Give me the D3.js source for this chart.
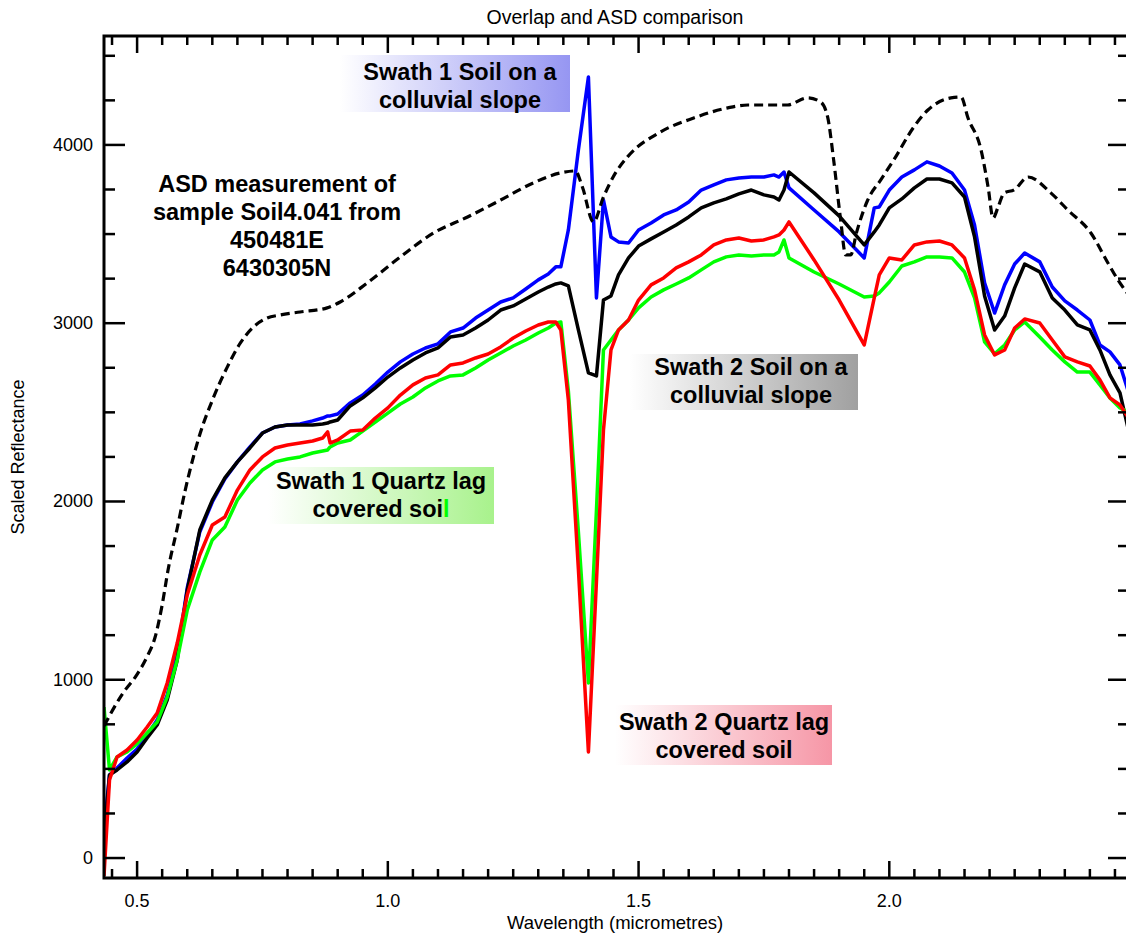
<!DOCTYPE html>
<html><head><meta charset="utf-8">
<script src="https://cdn.jsdelivr.net/npm/d3@7/dist/d3.min.js"></script>
<style>body{margin:0;background:#fff}svg{display:block}text{font-family:"Liberation Sans",Arial,sans-serif}</style>
</head><body>
<script>
// ---- data ----
const wavelengths = [0.434,0.445,0.46,0.48,0.50,0.52,0.54,0.56,0.58,0.60,0.625,0.65,0.675,0.70,0.725,0.75,0.775,0.80,0.825,0.85,0.87,0.88,0.885,0.90,0.925,0.95,0.975,1.00,1.025,1.05,1.075,1.10,1.125,1.15,1.175,1.20,1.225,1.25,1.275,1.30,1.32,1.335,1.345,1.36,1.38,1.40,1.416,1.43,1.445,1.46,1.48,1.50,1.525,1.55,1.575,1.60,1.625,1.65,1.675,1.70,1.725,1.75,1.77,1.78,1.79,1.80,1.85,1.90,1.95,1.97,1.98,2.00,2.025,2.05,2.075,2.10,2.125,2.15,2.17,2.19,2.21,2.23,2.25,2.27,2.30,2.325,2.35,2.375,2.40,2.42,2.44,2.46,2.48];
const swath1Soil = [157,466,505,561,612,690,774,914,1139,1515,1829,1997,2126,2222,2306,2384,2418,2429,2435,2452,2468,2480,2480,2491,2553,2597,2659,2726,2783,2827,2861,2884,2951,2973,3029,3074,3119,3142,3192,3243,3276,3316,3316,3523,3972,4381,3142,3691,3484,3456,3450,3523,3562,3607,3635,3680,3747,3776,3804,3815,3820,3820,3832,3820,3848,3759,3635,3512,3366,3647,3652,3747,3820,3860,3905,3882,3843,3747,3551,3226,3057,3215,3332,3394,3344,3203,3125,3074,3018,2878,2839,2766,2586];
const swath2Soil = [101,466,494,539,595,673,746,886,1111,1503,1840,2008,2132,2222,2300,2384,2418,2429,2429,2429,2435,2440,2446,2457,2536,2581,2637,2698,2749,2794,2833,2861,2923,2934,2973,3018,3074,3097,3136,3175,3203,3220,3226,3209,2962,2721,2704,3130,3153,3271,3366,3433,3473,3512,3551,3596,3647,3675,3697,3725,3747,3720,3708,3691,3747,3848,3731,3602,3439,3512,3551,3647,3697,3759,3809,3809,3787,3708,3484,3153,2962,3040,3198,3332,3288,3142,3074,2990,2962,2850,2710,2609,2362];
const swath1Quartz = [847,494,567,595,640,701,763,903,1111,1391,1604,1784,1857,2008,2104,2177,2222,2238,2250,2272,2283,2289,2306,2328,2345,2395,2446,2496,2547,2586,2637,2676,2704,2710,2749,2794,2833,2872,2906,2945,2973,3001,3007,2620,1830,982,1950,2850,2906,2962,3018,3086,3147,3187,3220,3254,3299,3344,3372,3383,3377,3383,3383,3400,3467,3366,3287,3220,3147,3153,3170,3231,3321,3344,3372,3372,3366,3287,3142,2895,2828,2878,2962,3007,2923,2850,2783,2726,2726,2654,2581,2525,2496];
const swath2Quartz = [-100,438,567,606,662,735,813,982,1206,1475,1700,1868,1913,2064,2177,2250,2300,2317,2328,2339,2356,2390,2328,2345,2395,2401,2468,2525,2597,2654,2693,2710,2766,2777,2805,2827,2867,2917,2956,2990,3007,3007,2962,2569,1620,595,1550,2400,2850,2962,3018,3130,3215,3254,3310,3344,3383,3439,3467,3478,3461,3467,3484,3495,3523,3568,3355,3130,2878,3142,3271,3366,3355,3439,3456,3461,3439,3366,3187,2934,2822,2850,2973,3024,3001,2906,2811,2783,2760,2682,2581,2541,2457];
const asdWavelengths = [0.434,0.472,0.50,0.52,0.536,0.55,0.562,0.58,0.596,0.626,0.652,0.680,0.706,0.732,0.759,0.785,0.825,0.879,0.905,0.959,1.025,1.091,1.159,1.225,1.290,1.344,1.374,1.388,1.410,1.430,1.454,1.478,1.544,1.610,1.678,1.718,1.797,1.837,1.863,1.877,1.889,1.903,1.913,1.923,1.935,1.957,1.983,2.009,2.049,2.077,2.123,2.143,2.157,2.183,2.197,2.207,2.217,2.229,2.249,2.277,2.322,2.356,2.402,2.436,2.456,2.474];
const asdValues = [741,926,1030,1130,1240,1420,1620,1850,2064,2384,2581,2755,2889,2979,3029,3046,3063,3086,3119,3226,3372,3506,3596,3691,3787,3843,3854,3764,3568,3708,3843,3933,4073,4151,4208,4224,4224,4264,4241,4157,3916,3579,3383,3383,3512,3691,3804,3916,4101,4196,4264,4269,4151,3972,3764,3590,3652,3731,3748,3820,3731,3635,3506,3338,3243,3170];
const xTickLabels = [0.5, 1.0, 1.5, 2.0];
const yTickLabels = [0, 1000, 2000, 3000, 4000];
const titleText = "Overlap and ASD comparison";
const xTitle = "Wavelength (micrometres)";
const yTitle = "Scaled Reflectance";

// ---- layout ----
const W = 1126, H = 933;
const L = 104, R = 1129, T = 36, B = 878;
const x = d3.scaleLinear().domain([0.434, 2.478]).range([L, R]);
const y = d3.scaleLinear().domain([-112, 4611]).range([B, T]);

const svg = d3.select("body").append("svg").attr("width", W).attr("height", H);
const defs = svg.append("defs");
defs.append("clipPath").attr("id","clip").append("rect")
  .attr("x", L).attr("y", T).attr("width", R - L).attr("height", B - T);

function grad(id, color){
  const g = defs.append("linearGradient").attr("id", id).attr("x1","0").attr("x2","1").attr("y1","0").attr("y2","0");
  g.append("stop").attr("offset","0").attr("stop-color", color).attr("stop-opacity", 0);
  g.append("stop").attr("offset","1").attr("stop-color", color).attr("stop-opacity", 1);
}
grad("gBlue", "rgb(150,150,242)");
grad("gGreen", "rgb(168,242,140)");
grad("gGray", "rgb(160,160,160)");
grad("gPink", "rgb(246,150,166)");

// label boxes (behind lines)
const boxes = [
  {x0:340, x1:570, y0:55, y1:112, fill:"url(#gBlue)"},
  {x0:268, x1:494, y0:467, y1:524, fill:"url(#gGreen)"},
  {x0:630, x1:858, y0:354, y1:410, fill:"url(#gGray)"},
  {x0:615, x1:832, y0:705, y1:765, fill:"url(#gPink)"}
];
svg.append("g").selectAll("rect").data(boxes).join("rect")
  .attr("x", d => d.x0).attr("y", d => d.y0)
  .attr("width", d => d.x1 - d.x0).attr("height", d => d.y1 - d.y0)
  .attr("fill", d => d.fill);

// lines
const plot = svg.append("g").attr("clip-path", "url(#clip)");
const line = d3.line().x(d => x(d[0])).y(d => y(d[1]));
const series = [
  {vals: swath1Soil, color: "#0000ff"},
  {vals: swath2Soil, color: "#000000"},
  {vals: swath1Quartz, color: "#00ff00"},
  {vals: swath2Quartz, color: "#ff0000"}
];
series.forEach(s => {
  plot.append("path").datum(wavelengths.map((w,i) => [w, s.vals[i]]))
    .attr("d", line).attr("fill","none").attr("stroke", s.color)
    .attr("stroke-width", 3.5).attr("stroke-linejoin","round");
});
plot.append("path").datum(asdWavelengths.map((w,i) => [w, asdValues[i]]))
  .attr("d", line.curve(d3.curveMonotoneX)).attr("fill","none").attr("stroke","#000")
  .attr("stroke-width", 3.2).attr("stroke-dasharray","9,5");

// axes
const axG = svg.append("g");
const yMinor = d3.range(0, 4600, 250).filter(v => v % 1000 !== 0);
const xMinor = d3.range(0.45, 2.47, 0.05).filter(v => Math.abs(v*2 - Math.round(v*2)) > 1e-6);
const ax = g => g.attr("stroke","#000").attr("stroke-width",2.5);
yTickLabels.forEach(v => {
  axG.append("line").call(ax).attr("x1",L).attr("x2",L+21).attr("y1",y(v)).attr("y2",y(v));
  axG.append("line").call(ax).attr("x1",R).attr("x2",R-21).attr("y1",y(v)).attr("y2",y(v));
});
yMinor.forEach(v => {
  axG.append("line").call(ax).attr("x1",L).attr("x2",L+11).attr("y1",y(v)).attr("y2",y(v));
  axG.append("line").call(ax).attr("x1",R).attr("x2",R-11).attr("y1",y(v)).attr("y2",y(v));
});
xTickLabels.forEach(v => {
  axG.append("line").call(ax).attr("x1",x(v)).attr("x2",x(v)).attr("y1",B).attr("y2",B-17);
  axG.append("line").call(ax).attr("x1",x(v)).attr("x2",x(v)).attr("y1",T).attr("y2",T+17);
});
xMinor.forEach(v => {
  axG.append("line").call(ax).attr("x1",x(v)).attr("x2",x(v)).attr("y1",B).attr("y2",B-9);
  axG.append("line").call(ax).attr("x1",x(v)).attr("x2",x(v)).attr("y1",T).attr("y2",T+9);
});
svg.append("rect").attr("x",L).attr("y",T).attr("width",R-L).attr("height",B-T)
  .attr("fill","none").attr("stroke","#000").attr("stroke-width",3);

// tick labels
svg.append("g").selectAll("text").data(xTickLabels).join("text")
  .attr("x", d => x(d)).attr("y", 907).attr("text-anchor","middle")
  .attr("font-size", 18).text(d => d3.format(".1f")(d));
svg.append("g").selectAll("text").data(yTickLabels).join("text")
  .attr("x", 93).attr("y", d => y(d) + 6).attr("text-anchor","end")
  .attr("font-size", 18).text(d => d);

// titles
svg.append("text").attr("x", 615).attr("y", 24).attr("text-anchor","middle").attr("font-size",19.5).text(titleText);
svg.append("text").attr("x", 615).attr("y", 929).attr("text-anchor","middle").attr("font-size",18.5).text(xTitle);
svg.append("text").attr("transform","translate(24,457) rotate(-90)").attr("text-anchor","middle").attr("font-size",18).text(yTitle);

// annotations
const ann = [
  {cx:460, y0:80, lines:["Swath 1 Soil on a","colluvial slope"]},
  {cx:277, y0:192, lines:["ASD measurement of","sample Soil4.041 from","450481E","6430305N"]},
  {cx:381, y0:489, lines:["Swath 1 Quartz lag","covered soi"], green:true},
  {cx:751, y0:375, lines:["Swath 2 Soil on a","colluvial slope"]},
  {cx:724, y0:730, lines:["Swath 2 Quartz lag","covered soil"]}
];
ann.forEach(a => {
  const t = svg.append("text").attr("text-anchor","middle").attr("font-size",23.5).attr("font-weight","bold");
  a.lines.forEach((ln,i) => {
    const ts = t.append("tspan").attr("x", a.cx).attr("y", a.y0 + i*28).text(ln);
    if (a.green && i === 1) ts.append("tspan").attr("fill","#00ff00").text("l");
  });
});
</script>
</body></html>
